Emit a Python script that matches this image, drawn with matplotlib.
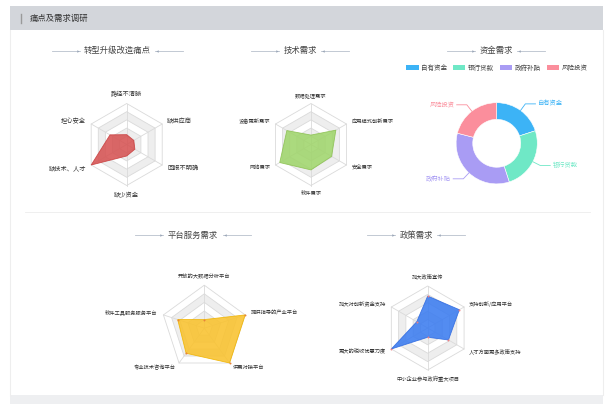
import matplotlib
matplotlib.use('Agg')
import matplotlib.pyplot as plt
import numpy as np
from matplotlib.patches import Rectangle, Polygon, Patch

plt.rcParams['font.family'] = ['Noto Sans CJK SC', 'DejaVu Sans']

W, H = 611, 404

# ---------------- data ----------------
pain_labels = ['路径不清晰', '缺供应商', '回报不明确', '缺少资金', '缺技术、人才', '担心安全']
pain_values = [0.24, 0.2, 0.23, 0.28, 1.0, 0.47]

tech_labels = ['数据处理需求', '应用模式创新需求', '安全需求', '软件需求', '网络需求', '设备更新需求']
tech_values = [0.23, 0.7, 0.58, 0.62, 0.88, 0.68]

fund_labels = ['自有资金', '银行贷款', '政府补贴', '风险投资']
fund_values = [20, 25, 34, 21]

platform_labels = ['开放的大数据分析平台', '提供指导的产业平台', '供需对接平台', '专业技术咨询平台', '软件工具服务服务平台']
platform_values = [0.2, 1.0, 1.0, 0.72, 0.65]

policy_labels = ['加大政策宣传', '支持创新/应用平台', '人才方面更多政策支持', '中小企业参与政府重大项目', '更大的税收优惠力度', '加大对创新资金支持']
policy_values = [0.76, 0.87, 0.57, 0.22, 1.0, 0.3]

fund_colors = ['#3cb3f6', '#6fe8c6', '#a99cf4', '#fb8e9c']

fig = plt.figure(figsize=(W / 100, H / 100), dpi=100)
fig.patch.set_facecolor('white')

# background / decoration axes in pixel units
bg = fig.add_axes([0, 0, 1, 1])
bg.set_xlim(0, W)
bg.set_ylim(H, 0)
bg.axis('off')
bg.add_patch(Rectangle((10, 6), 593, 24, fc='#d3d6db', ec='none'))
bg.add_patch(Rectangle((10, 395), 593, 9, fc='#eeeff1', ec='none'))
bg.plot([10, 10], [30, 395], color='#eeeeee', lw=0.8)
bg.plot([603, 603], [30, 395], color='#eeeeee', lw=0.8)
bg.plot([21, 21], [14, 23], color='#9a9a9a', lw=1.0)
bg.text(30, 18.5, '痛点及需求调研', fontsize=6, color='#333333', ha='left', va='center')
bg.plot([25, 590], [212, 212], color='#ececec', lw=0.6)


def title(cx, cy, txt):
    tw = len(txt) * 8.2
    bg.text(cx, cy, txt, fontsize=6, color='#444444', ha='center', va='center')
    l1 = cx - tw / 2 - 5
    bg.plot([l1 - 28, l1], [cy, cy], color='#b8c0cc', lw=0.6)
    bg.plot([l1 - 2], [cy], marker='>', ms=1.8, color='#9aa6b8', mec='none')
    r1 = cx + tw / 2 + 5
    bg.plot([r1, r1 + 28], [cy, cy], color='#b8c0cc', lw=0.6)
    bg.plot([r1 + 2], [cy], marker='<', ms=1.8, color='#9aa6b8', mec='none')


title(117.5, 50.5, '转型升级改造痛点')
title(300, 50.5, '技术需求')
title(496, 50.5, '资金需求')
title(193, 235, '平台服务需求')
title(416, 235, '政策需求')


def radar(cx, cy, R, labels, values, color, edge, fs, gap=0.14, marker=None):
    hw, hh = 110, 70
    ax = fig.add_axes([(cx - hw) / W, 1 - (cy + hh) / H, 2 * hw / W, 2 * hh / H])
    ax.set_xlim(-hw / R, hw / R)
    ax.set_ylim(-hh / R, hh / R)
    ax.axis('off')
    n = len(labels)
    ang = np.pi / 2 - 2 * np.pi * np.arange(n) / n
    ux, uy = np.cos(ang), np.sin(ang)
    levels = [1.0, 0.8, 0.6, 0.4, 0.2]
    band = ['#ffffff', '#eeeeee']
    for k, lv in enumerate(levels):
        ax.add_patch(Polygon(np.c_[ux * lv, uy * lv], closed=True,
                             fc=band[k % 2], ec='#dadada', lw=0.6, zorder=1))
    for i in range(n):
        ax.plot([0, ux[i]], [0, uy[i]], color='#dadada', lw=0.6, zorder=2)
    v = np.asarray(values)
    ax.add_patch(Polygon(np.c_[ux * v, uy * v], closed=True, fc=color,
                         alpha=0.88, ec=edge, lw=0.6, zorder=3))
    if marker:
        ax.plot(ux * v, uy * v, 'o', ms=1.4, color=marker, mec='none', zorder=4)
    for i in range(n):
        x, y = ux[i] * (1 + gap), uy[i] * (1 + gap)
        ha = 'left' if ux[i] > 0.05 else ('right' if ux[i] < -0.05 else 'center')
        va = 'bottom' if uy[i] > 0.95 else ('top' if uy[i] < -0.95 else 'center')
        ax.text(x, y, labels[i], fontsize=fs, color='#333333', ha=ha, va=va)
    return ax


radar(126.7, 144.5, 41, pain_labels, pain_values, '#d65353', '#c94040', 4.5)
radar(311, 144.5, 41, tech_labels, tech_values, '#a0d56c', '#8cc152', 3.8)
radar(204.3, 328.2, 43, platform_labels, platform_values, '#f9c22e', '#f0b400', 3.8,
      marker='#e8833a')
radar(427.7, 328, 42, policy_labels, policy_values, '#3b7cf0', '#2f6ae0', 3.8,
      marker='#f08080')

# ---------------- donut ----------------
pcx, pcy, PR = 496.7, 143.3, 40.6
hw, hh = 100, 55
axp = fig.add_axes([(pcx - hw) / W, 1 - (pcy + hh) / H, 2 * hw / W, 2 * hh / H])
wedges, _ = axp.pie(fund_values, colors=fund_colors, startangle=90, counterclock=False,
                    radius=1.0, wedgeprops=dict(width=0.41, edgecolor='white', linewidth=0.4))
axp.set_xlim(-hw / PR, hw / PR)
axp.set_ylim(-hh / PR, hh / PR)
axp.set_aspect('auto')
axp.axis('off')
for w, lab, c in zip(wedges, fund_labels, fund_colors):
    m = np.deg2rad((w.theta1 + w.theta2) / 2)
    p0 = np.array([np.cos(m), np.sin(m)]) * 1.0
    p1 = np.array([np.cos(m), np.sin(m)]) * 1.2
    s = 1 if np.cos(m) >= 0 else -1
    p2 = p1 + np.array([s * 0.25, 0])
    axp.plot([p0[0], p1[0], p2[0]], [p0[1], p1[1], p2[1]], color=c, lw=0.6)
    axp.text(p2[0] + s * 0.05, p2[1], lab, color=c, fontsize=4.5,
             ha='left' if s > 0 else 'right', va='center')

handles = [Patch(fc=c, ec='none') for c in fund_colors]
fig.legend(handles, fund_labels, ncol=4, loc='center',
           bbox_to_anchor=(497 / W, 1 - 67.7 / H), frameon=False, fontsize=4.7,
           handlelength=1.9, handleheight=1.0, columnspacing=0.9, handletextpad=0.4,
           labelcolor='#444444')

fig.savefig('out.png', dpi=100, facecolor='white')
